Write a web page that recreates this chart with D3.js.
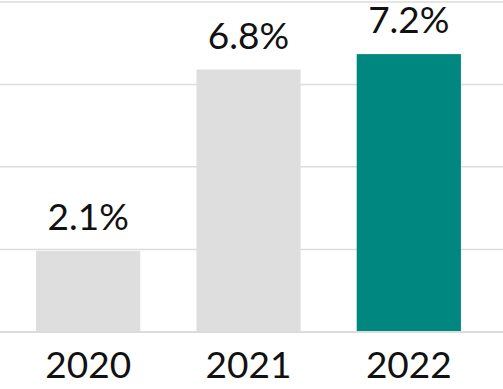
<!DOCTYPE html>
<html>
<head>
<meta charset="utf-8">
<script src="https://cdn.jsdelivr.net/npm/d3@7"></script>
<style>
  html, body { margin: 0; padding: 0; background: #fff; }
  svg { display: block; }
  text { font-family: Lato, "Open Sans", sans-serif; }
</style>
</head>
<body>
<svg id="chart" width="503" height="389"></svg>
<script>
const categories = ["2020", "2021", "2022"];
const values = [2.1, 6.8, 7.2];
const valueLabels = ["2.1%", "6.8%", "7.2%"];
const gridValues = [0, 2.14, 4.28, 6.41, 8.55];
const barColors = ["#dedede", "#dedede", "#008780"];

const W = 503, H = 389;
const svg = d3.select("#chart");

const x = d3.scaleBand()
  .domain(categories)
  .range([0, 497])
  .paddingInner(0.35)
  .paddingOuter(0.225);

const y = d3.scaleLinear()
  .domain([0, 8.55])
  .range([332, 2]);

// gridlines
svg.append("g")
  .selectAll("line")
  .data(gridValues)
  .join("line")
  .attr("x1", 0)
  .attr("x2", W)
  .attr("y1", d => y(d))
  .attr("y2", d => y(d))
  .attr("stroke", "#dcdcdc")
  .attr("stroke-width", d => d === 0 ? 2 : 1.5);

// bars
svg.append("g")
  .selectAll("rect")
  .data(values)
  .join("rect")
  .attr("x", (d, i) => x(categories[i]))
  .attr("width", x.bandwidth())
  .attr("y", d => y(d))
  .attr("height", d => y(0) - y(d) - 1)
  .attr("fill", (d, i) => barColors[i]);

// value labels
svg.append("g")
  .selectAll("text")
  .data(values)
  .join("text")
  .attr("x", (d, i) => x(categories[i]) + x.bandwidth() / 2)
  .attr("y", d => y(d) - 21)
  .attr("text-anchor", "middle")
  .attr("font-size", 37)
  .attr("fill", "#111")
  .text((d, i) => valueLabels[i]);

// category axis labels
const xAxis = d3.axisBottom(x).tickSize(0).tickPadding(0);
const gx = svg.append("g")
  .attr("transform", `translate(0, 378)`)
  .call(xAxis);
gx.select(".domain").remove();
gx.selectAll("text")
  .attr("dy", 0)
  .attr("y", 0)
  .attr("font-size", 37)
  .attr("font-family", "Lato, 'Open Sans', sans-serif")
  .attr("fill", "#111");
</script>
</body>
</html>
